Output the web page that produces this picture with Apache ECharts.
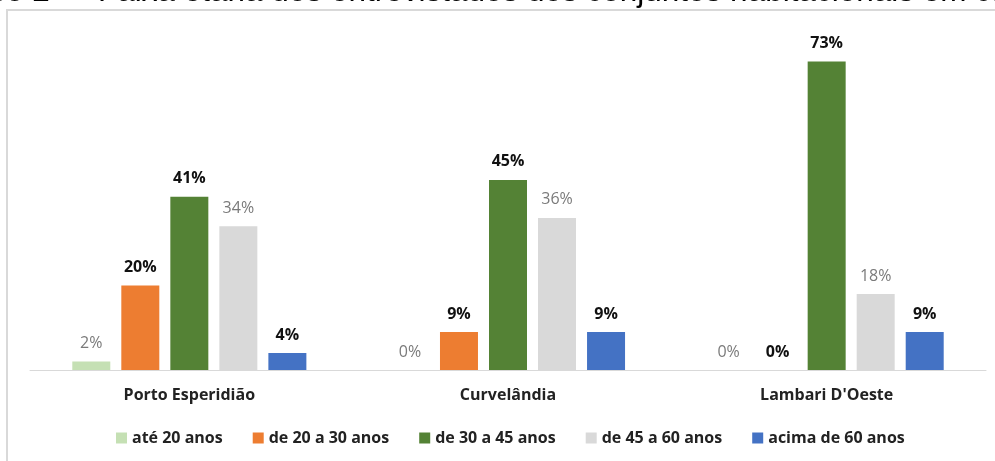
<!DOCTYPE html>
<html>
<head>
<meta charset="utf-8">
<script src="https://cdn.jsdelivr.net/npm/echarts@6/dist/echarts.min.js"></script>
<style>
  html, body { margin: 0; padding: 0; background: #fff; }
  #chart { width: 995px; height: 461px; }
</style>
</head>
<body>
<div id="chart"></div>
<script>
// Age groups of interviewees per housing development (percent)
const categories = ['Porto Esperidião', 'Curvelândia', "Lambari D'Oeste"];
const seriesNames = ['até 20 anos', 'de 20 a 30 anos', 'de 30 a 45 anos', 'de 45 a 60 anos', 'acima de 60 anos'];
const ate20 = [2, 0, 0];
const de20a30 = [20, 9, 0];
const de30a45 = [41, 45, 73];
const de45a60 = [34, 36, 18];
const acima60 = [4, 9, 9];
const titlePrefix = 'Gráfico 2 –';
const titleText = 'Faixa etária dos entrevistados dos conjuntos habitacionais em cada município';

const values = [ate20, de20a30, de30a45, de45a60, acima60];
const colors = ['#c5e0b4', '#ed7d31', '#548235', '#d9d9d9', '#4472c4'];
const boldLabel = [false, true, true, false, true];
const FONT = '"Open Sans", "Noto Sans", sans-serif';
const TITLE_FONT = '31.5px "Liberation Sans", Arial, sans-serif';

const chart = echarts.init(document.getElementById('chart'), null, { renderer: 'canvas' });

const series = seriesNames.map((name, i) => ({
  name: name,
  type: 'bar',
  data: values[i],
  barWidth: 38,
  barGap: '29%',
  itemStyle: { color: colors[i] },
  label: {
    show: true,
    position: 'top',
    distance: 10,
    formatter: p => p.value + '%',
    fontFamily: FONT,
    fontSize: 16,
    fontWeight: boldLabel[i] ? 'bold' : 'normal',
    color: boldLabel[i] ? '#111' : '#7a7a7a'
  }
}));

chart.setOption({
  animation: false,
  backgroundColor: '#fff',
  graphic: [
    {
      type: 'text',
      x: 76, y: 8,
      style: { text: titlePrefix, font: TITLE_FONT, fill: '#000', align: 'right', verticalAlign: 'bottom' }
    },
    {
      type: 'text',
      x: 98, y: 8,
      style: { text: titleText, font: TITLE_FONT, fill: '#000', align: 'left', verticalAlign: 'bottom' }
    },
    {
      type: 'rect',
      shape: { x: 7, y: 10, width: 1100, height: 600 },
      style: { fill: '#fff', stroke: '#d9d9d9', lineWidth: 2 },
      z: -1
    }
  ],
  grid: { left: 30, right: 9, top: 32, bottom: 91 },
  legend: {
    data: seriesNames,
    left: 116,
    top: 430,
    padding: 0,
    icon: 'rect',
    itemWidth: 11,
    itemHeight: 11,
    itemGap: 30,
    textStyle: { fontFamily: FONT, fontSize: 16, fontWeight: 'bold', color: '#222' }
  },
  xAxis: {
    type: 'category',
    data: categories,
    axisLine: { lineStyle: { color: '#d9d9d9', width: 1 } },
    axisTick: { show: false },
    axisLabel: { margin: 17, fontFamily: FONT, fontSize: 16, fontWeight: 'bold', color: '#222' }
  },
  yAxis: {
    type: 'value',
    min: 0,
    max: 80,
    show: false,
    splitLine: { show: false }
  },
  series: series
});
</script>
</body>
</html>
